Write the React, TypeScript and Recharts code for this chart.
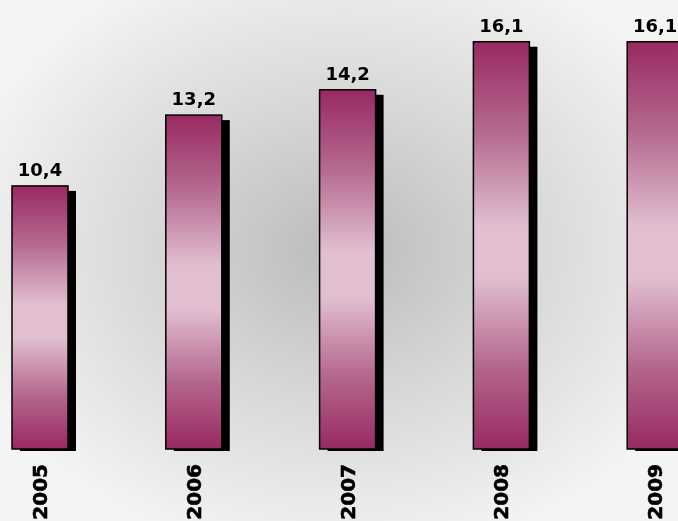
import { BarChart, Bar, XAxis, YAxis, LabelList } from "recharts";

const years = ["2005", "2006", "2007", "2008", "2009"];
const values = [10.4, 13.2, 14.2, 16.1, 16.1];

const data = years.map((year, i) => ({ year, value: values[i] }));

const fmt = (v: number) => v.toFixed(1).replace(".", ",");

function GradientBar(props: any) {
  const { x, y, width, height } = props;
  if (!height) return null;
  return (
    <g>
      <rect x={x + 8} y={y + 5} width={width} height={height - 3} fill="#000" />
      <rect
        x={x}
        y={y}
        width={width}
        height={height}
        fill="url(#barFill)"
        stroke="#000"
        strokeWidth={1.5}
      />
    </g>
  );
}

function YearTick(props: any) {
  const { x, y, payload } = props;
  const ty = y + 15;
  return (
    <text
      x={x}
      y={ty}
      transform={`rotate(-90, ${x}, ${ty})`}
      textAnchor="end"
      dominantBaseline="central"
      fontFamily="DejaVu Sans"
      fontWeight="bold"
      fontSize={20}
      stroke="#000"
      strokeWidth={0.6}
      fill="#000"
    >
      {payload.value}
    </text>
  );
}

export default function App() {
  return (
    <div
      style={{
        position: "fixed",
        left: 0,
        top: 0,
        width: 678,
        height: 521,
        overflow: "hidden",
        background:
          "radial-gradient(ellipse 58% 60% at 50% 48%, #bbbbbb 0%, #d6d6d6 45%, #f4f4f4 100%)",
      }}
    >
      <div style={{ position: "absolute", left: -37, top: 0 }}>
        <BarChart
          width={769}
          height={521}
          data={data}
          margin={{ top: 0, right: 0, bottom: 0, left: 0 }}
        >
          <defs>
            <linearGradient id="barFill" x1="0" y1="0" x2="0" y2="1">
              <stop offset="0%" stopColor="#982a61" />
              <stop offset="22%" stopColor="#b56990" />
              <stop offset="45%" stopColor="#e1bed0" />
              <stop offset="58%" stopColor="#e1bed0" />
              <stop offset="80%" stopColor="#b4668d" />
              <stop offset="100%" stopColor="#982a61" />
            </linearGradient>
          </defs>
          <XAxis
            dataKey="year"
            height={72}
            axisLine={false}
            tickLine={false}
            tickSize={0}
            tickMargin={0}
            interval={0}
            tick={<YearTick />}
          />
          <YAxis hide domain={[0, 17.75]} />
          <Bar
            dataKey="value"
            barSize={56}
            shape={<GradientBar />}
            isAnimationActive={false}
          >
            <LabelList
              dataKey="value"
              position="top"
              offset={10}
              formatter={(v: any) => fmt(Number(v))}
              style={{
                fontFamily: "DejaVu Sans",
                fontWeight: "bold",
                fontSize: 18,
                fill: "#000",
              }}
            />
          </Bar>
        </BarChart>
      </div>
    </div>
  );
}
